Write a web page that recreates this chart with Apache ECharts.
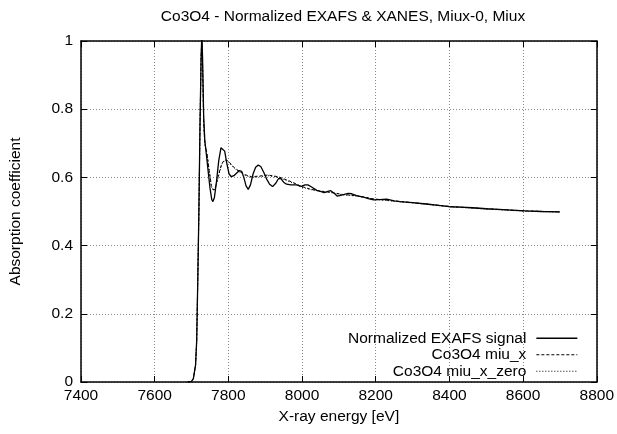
<!DOCTYPE html>
<html>
<head>
<meta charset="utf-8">
<script src="https://cdn.jsdelivr.net/npm/echarts@6/dist/echarts.min.js"></script>
<style>html,body{margin:0;padding:0;background:#fff}#c{width:617px;height:434px}</style>
</head>
<body>
<div id="c"></div>
<script>
const titleText = 'Co3O4 - Normalized EXAFS & XANES, Miux-0, Miux';
const seriesNames = ['Normalized EXAFS signal', 'Co3O4 miu_x', 'Co3O4 miu_x_zero'];
const xTicks = [7400, 7600, 7800, 8000, 8200, 8400, 8600, 8800];
const yTicks = [0, 0.2, 0.4, 0.6, 0.8, 1];

const exafsE = [7690,7700,7705,7708,7711,7714,7717,7720,7723,7726,7728,7730,7733,7736,7740,7745,7750,7755,7758,7762,7768,7774,7780,7785,7790,7796,7802,7808,7815,7822,7830,7836,7842,7848,7854,7860,7867,7874,7881,7888,7896,7904,7912,7920,7928,7936,7942,7950,7958,7970,7985,7998,8008,8016,8026,8040,8052,8060,8070,8078,8088,8096,8110,8125,8135,8150,8167,8180,8194,8210,8230,8250,8266,8300,8338,8370,8400,8430,8463,8500,8534,8570,8606,8650,8700];
const exafsV = [0,0.002,0.01,0.03,0.05,0.12,0.3,0.5,0.75,0.95,1.02,0.95,0.78,0.71,0.67,0.62,0.57,0.535,0.529,0.54,0.59,0.65,0.687,0.692,0.677,0.64,0.61,0.602,0.605,0.612,0.62,0.618,0.6,0.575,0.565,0.578,0.61,0.63,0.636,0.632,0.615,0.595,0.58,0.573,0.582,0.596,0.597,0.586,0.58,0.578,0.578,0.574,0.578,0.578,0.572,0.562,0.558,0.555,0.559,0.561,0.553,0.545,0.549,0.553,0.552,0.546,0.542,0.538,0.534,0.535,0.536,0.531,0.529,0.526,0.522,0.518,0.514,0.513,0.511,0.508,0.506,0.504,0.502,0.5,0.499];

const miuxE = [7690,7700,7705,7708,7711,7714,7717,7720,7723,7726,7728,7730,7733,7736,7742,7748,7754,7760,7766,7774,7782,7790,7800,7810,7820,7830,7845,7863,7885,7908,7935,7960,7980,7997,8024,8050,8080,8110,8150,8194,8250,8300,8400,8500,8600,8700];
const miuxV = [0,0.002,0.01,0.03,0.05,0.12,0.3,0.5,0.75,0.95,1.01,0.93,0.76,0.70,0.67,0.62,0.575,0.563,0.575,0.61,0.64,0.652,0.648,0.635,0.625,0.618,0.608,0.602,0.604,0.607,0.602,0.592,0.583,0.574,0.565,0.56,0.556,0.55,0.546,0.537,0.531,0.526,0.515,0.508,0.502,0.499];

const miuxZeroE = [7690,7700,7705,7708,7711,7714,7717,7720,7723,7726,7728,7730,7733,7736,7742,7748,7754,7760,7766,7774,7782,7790,7800,7810,7820,7830,7845,7863,7885,7908,7935,7960,7980,7997,8024,8050,8080,8110,8150,8194,8250,8300,8400,8500,8600,8700];
const miuxZeroV = [0,0.002,0.01,0.03,0.05,0.12,0.3,0.5,0.75,0.95,1.01,0.93,0.76,0.70,0.668,0.618,0.572,0.56,0.572,0.607,0.638,0.65,0.646,0.633,0.623,0.616,0.606,0.6,0.602,0.605,0.6,0.59,0.581,0.572,0.564,0.559,0.555,0.549,0.545,0.536,0.53,0.525,0.514,0.507,0.501,0.498];

function pairs(xs, ys) { return xs.map((x, i) => [x, ys[i]]); }

const FONT = 'Liberation Sans, Arial, sans-serif';
const FS = 15.5;
const lineStyles = [
  {color: '#000', width: 1.3, type: 'solid'},
  {color: '#000', width: 1, type: [3, 2]},
  {color: '#000', width: 1, type: [1, 2]}
];
const chart = echarts.init(document.getElementById('c'), null, {renderer: 'canvas'});
const gridLine = {show: true, lineStyle: {color: '#888', type: [1, 2], width: 1}};
const frame = {show: true, onZero: false, lineStyle: {color: '#000', width: 1.5}};
const tick = {show: true, inside: true, length: 6, lineStyle: {color: '#000', width: 1}};
chart.setOption({
  animation: false,
  backgroundColor: '#fff',
  title: {text: titleText, left: 338, top: 4, textAlign: 'center',
    textStyle: {fontFamily: FONT, fontSize: FS, fontWeight: 'normal', color: '#000'}},
  grid: {left: 77.5, right: 18, top: 41, bottom: 52, containLabel: false},
  legend: {
    orient: 'vertical', right: 34, top: 325, align: 'right',
    itemWidth: 41, itemHeight: 12, itemGap: 0,
    itemStyle: {opacity: 0},
    textStyle: {fontFamily: FONT, fontSize: FS, lineHeight: 16.5, color: '#000', padding: [0, 5, 0, 0]},
    data: seriesNames.map((n, i) => ({name: n, lineStyle: lineStyles[i]}))
  },
  xAxis: [{
    type: 'value', min: xTicks[0], max: xTicks[xTicks.length - 1], interval: 200,
    name: 'X-ray energy [eV]', nameLocation: 'middle', nameGap: 20,
    nameTextStyle: {fontFamily: FONT, fontSize: FS, color: '#000'},
    axisLine: frame, axisTick: tick,
    axisLabel: {fontFamily: FONT, fontSize: FS, color: '#000', margin: 6, formatter: v => String(v)},
    splitLine: gridLine
  }, {
    type: 'value', position: 'top', min: xTicks[0], max: xTicks[xTicks.length - 1], interval: 200,
    axisLine: frame, axisTick: tick,
    axisLabel: {show: false}, splitLine: {show: false}
  }],
  yAxis: [{
    type: 'value', min: yTicks[0], max: yTicks[yTicks.length - 1], interval: 0.2,
    name: 'Absorption coefficient', nameLocation: 'middle', nameGap: 57,
    nameTextStyle: {fontFamily: FONT, fontSize: FS, color: '#000'},
    axisLine: frame, axisTick: tick,
    axisLabel: {fontFamily: FONT, fontSize: FS, color: '#000', margin: 8, formatter: v => String(v)},
    splitLine: gridLine
  }, {
    type: 'value', position: 'right', min: yTicks[0], max: yTicks[yTicks.length - 1], interval: 0.2,
    axisLine: frame, axisTick: tick,
    axisLabel: {show: false}, splitLine: {show: false}
  }],
  series: [
    {name: seriesNames[0], type: 'line', data: pairs(exafsE, exafsV), showSymbol: false, symbol: 'none',
      lineStyle: lineStyles[0], itemStyle: {color: '#000'}, z: 3},
    {name: seriesNames[1], type: 'line', data: pairs(miuxE, miuxV), showSymbol: false, symbol: 'none',
      lineStyle: lineStyles[1], itemStyle: {color: '#000'}, z: 2},
    {name: seriesNames[2], type: 'line', data: pairs(miuxZeroE, miuxZeroV), showSymbol: false, symbol: 'none',
      lineStyle: lineStyles[2], itemStyle: {color: '#000'}, z: 2}
  ]
});
</script>
</body>
</html>
